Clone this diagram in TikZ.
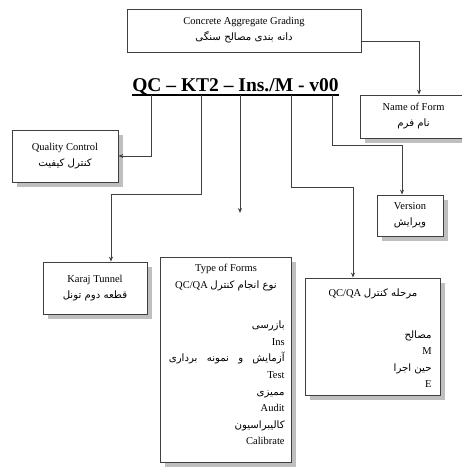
\documentclass[tikz,border=0pt]{standalone}
\usepackage{fontspec}
\setmainfont{Liberation Serif}
\newfontfamily\fa[Script=Arabic, Scale=0.97]{DejaVu Sans}
\TeXXeTstate=1
\usetikzlibrary{
    positioning,
    arrows.meta,
    shadows
}
\newcommand{\fatxt}[1]{{\fa\beginR #1\endR}}
\tikzset{
    >={Stealth[length=5pt,width=4pt]},
    frm/.style={
        draw=black!75,
        line width=0.8pt,
        fill=white,
        inner sep=0pt,
        align=center,
        font=\fontsize{10.5}{16}\selectfont
    },
    shd/.style={
        frm,
        drop shadow={shadow xshift=5pt, shadow yshift=-5pt,
            fill=black!25, opacity=1}
    },
    txt/.style={
        inner sep=0pt,
        font=\fontsize{10.5}{16.6}\selectfont
    }
}
\begin{document}
\begin{tikzpicture}[
    x=1pt, y=-1pt,
    line width=0.8pt,
    draw=black!75
]
    \useasboundingbox (0,0) rectangle (462,468);

    % Code
    \node[inner sep=0pt, anchor=base,
        font=\fontsize{19.5}{22}\selectfont\bfseries]
        (code) at (235.5,91.5) {QC – KT2 – Ins./M - v00};
    \draw[line width=1.2pt, black]
        ([yshift=-3.5pt]code.base west) -- ([yshift=-3.5pt]code.base east);

    % Drop points on the underline
    \coordinate (dQC) at (151,95);
    \coordinate (dKT) at (201,95);
    \coordinate (dTF) at (240,95);
    \coordinate (dST) at (291,95);
    \coordinate (dVR) at (332,95);
    \coordinate (tfEnd) at (240,213);

    % Boxes
    \node[frm, minimum width=234pt, minimum height=43pt]
        (cag) at (244,30.5)
        {Concrete Aggregate Grading\\ \fatxt{دانه بندی مصالح سنگی}};
    \node[shd, minimum width=107pt, minimum height=43pt]
        (nof) at (413.5,116.5)
        {Name of Form\\ \fatxt{نام فرم}};
    \node[shd, minimum width=106pt, minimum height=52pt]
        (qc) at (65,156)
        {Quality Control\\ \fatxt{کنترل کیفیت}};
    \node[shd, minimum width=66pt, minimum height=41pt]
        (ver) at (410,215.5)
        {Version\\ \fatxt{ویرایش}};
    \node[shd, minimum width=104pt, minimum height=52pt]
        (kt) at (95,288)
        {Karaj Tunnel\\ \fatxt{قطعه دوم تونل}};
    \node[shd, minimum width=131pt, minimum height=205pt]
        (tof) at (225.5,359.5) {};
    \node[shd, minimum width=135pt, minimum height=117pt]
        (stg) at (372.5,336.5) {};

    % Type of Forms
    \node[txt, align=center, anchor=north]
        (tofHead) at (226,264)
        {Type of Forms\\ \beginR{\fa نوع انجام کنترل} \beginL QC/QA\endL\endR};
    \node[txt, align=right, anchor=north east]
        (tofList) at (285,320.5)
        {\fatxt{بازرسی}\\ Ins\\
         \fatxt{آزمایش\hspace{6pt} و\hspace{6pt} نمونه\hspace{6pt} برداری}\\
         Test\\ \fatxt{ممیزی}\\ Audit\\ \fatxt{کالیبراسیون}\\ Calibrate};

    % Stage of QC/QA
    \node[txt, align=center, anchor=north]
        (stgHead) at (373,288.5)
        {\beginR{\fa مرحله کنترل} \beginL QC/QA\endL\endR};
    \node[txt, align=right, anchor=north east]
        (stgList) at (432,330)
        {\fatxt{مصالح}\\ M\\ \fatxt{حین اجرا}\\ E};

    % Connectors
    \draw[->] ([yshift=-10.5pt]cag.east) -| ([xshift=5.5pt]nof.north);
    \draw[->] (dQC) |- (qc.east);
    \draw[->] (dKT) -- ++(0,99) -| ([xshift=16pt]kt.north);
    \draw[->] (dTF) -- (tfEnd);
    \draw[->] (dST) -- ++(0,92) -| ([xshift=-19.5pt]stg.north);
    \draw[->] (dVR) -- ++(0,50) -| ([xshift=-8pt]ver.north);

\end{tikzpicture}
\end{document}
